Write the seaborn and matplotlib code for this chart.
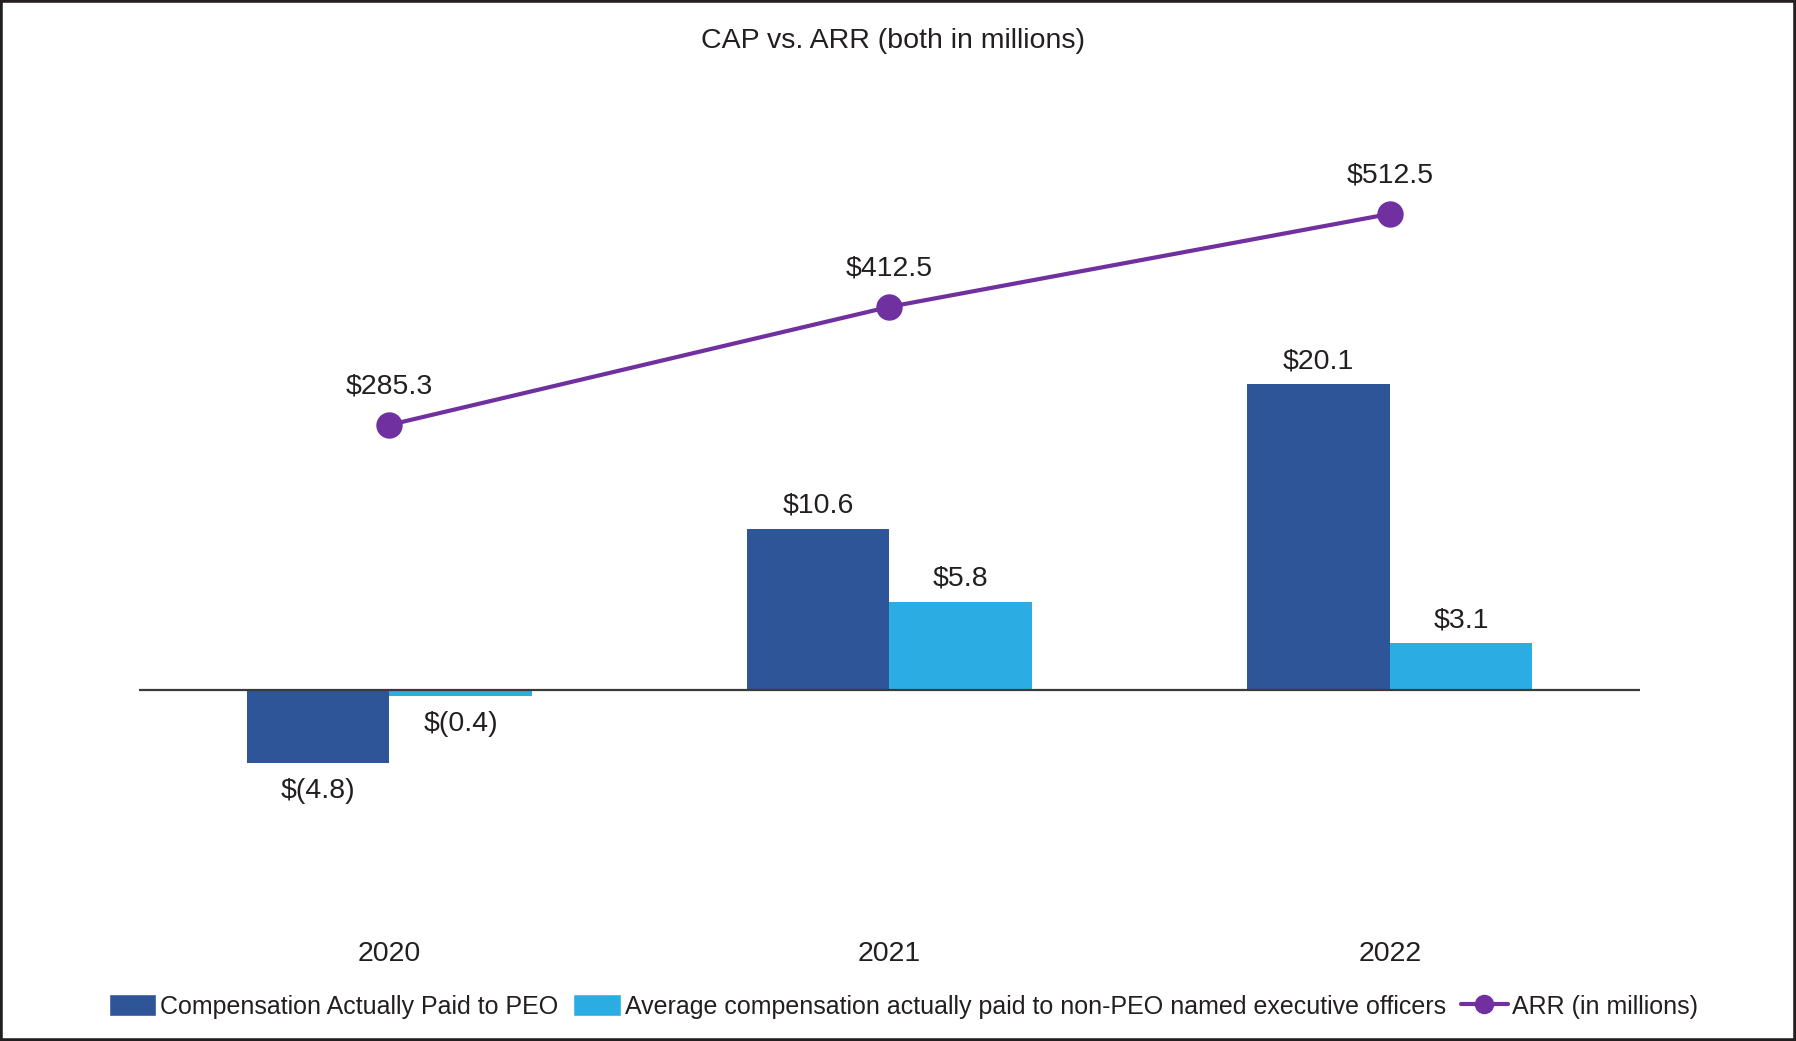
import matplotlib
matplotlib.use("Agg")
import matplotlib.pyplot as plt
import seaborn as sns
import pandas as pd
from matplotlib.patches import Patch, Rectangle
from matplotlib.lines import Line2D

years = ["2020", "2021", "2022"]
peo_cap = [-4.8, 10.6, 20.1]
neo_cap = [-0.4, 5.8, 3.1]
arr = [285.3, 412.5, 512.5]
series_names = ["Compensation Actually Paid to PEO",
                "Average compensation actually paid to non-PEO named executive officers"]
line_name = "ARR (in millions)"
title = "CAP vs. ARR (both in millions)"

c_peo = "#2E5597"
c_neo = "#2BADE3"
c_arr = "#7030A0"
txt = "#231F20"

sns.set_theme(style="white")
plt.rcParams["font.family"] = ["Liberation Sans", "DejaVu Sans"]

df = pd.DataFrame({
    "year": years * 2,
    "value": peo_cap + neo_cap,
    "series": [series_names[0]] * 3 + [series_names[1]] * 3,
})

fig = plt.figure(figsize=(17.96, 10.41), dpi=100)
ax = fig.add_axes([0.0774, 0.1118, 0.8357, 0.761])

sns.barplot(data=df, x="year", y="value", hue="series", order=years,
            hue_order=series_names, palette=[c_peo, c_neo], width=0.57,
            gap=0, legend=False, ax=ax, saturation=1, errorbar=None,
            linewidth=0, edgecolor="none")

ax.set_xlim(-0.5, 2.5)
ax.set_ylim(-15.4, 36.6)
ax.axhline(0, color="#3a3a3a", lw=1.6, zorder=5)

def fmt(v):
    return f"${v:.1f}" if v >= 0 else f"$({abs(v):.1f})"

for cont in ax.containers:
    vals = [b.get_height() for b in cont]
    ax.bar_label(cont, labels=[fmt(v) for v in vals], padding=7,
                 fontsize=20.5, color=txt)
    # extra spacing for negative labels
for t in ax.texts:
    if t.get_text().startswith("$("):
        t.set_y(t.get_position()[1])
        x0, y0 = t.xyann if hasattr(t, "xyann") else (0, 0)
        t.xyann = (x0, y0 - 3.5)

ax2 = ax.twinx()
sns.lineplot(x=[0, 1, 2], y=arr, ax=ax2, color=c_arr, lw=3.0, marker="o",
             markersize=19, markeredgewidth=0, legend=False)
ax2.set_ylim(-15.4 * 16.4, 36.6 * 16.4)
for i, v in enumerate(arr):
    ax2.annotate(fmt(v), (i, v), xytext=(0, 27.5), textcoords="offset points",
                 ha="center", va="center", fontsize=20.5, color=txt)

for a in (ax, ax2):
    for s in a.spines.values():
        s.set_visible(False)
    a.set_yticks([])
    a.set_ylabel("")
ax.set_xlabel("")
ax.tick_params(axis="x", length=0, pad=12, labelsize=20.5, labelcolor=txt)
fig.text(0.497, 0.9603, title, ha="center", va="center", fontsize=20.5, color=txt)

handles = [Patch(facecolor=c_peo), Patch(facecolor=c_neo),
           Line2D([], [], color=c_arr, lw=3.0, marker="o", markersize=13)]
fig.legend(handles, series_names + [line_name], loc="center",
           bbox_to_anchor=(0.503, 0.0332), ncol=3, frameon=False,
           fontsize=18, handlelength=1.9, handleheight=1.0, handletextpad=0.15,
           columnspacing=0.6, labelcolor=txt)

fig.patches.append(Rectangle((0, 0), 1, 1, transform=fig.transFigure,
                             fill=False, ec="#231F20", lw=4))

fig.savefig("out.png", dpi=100)
